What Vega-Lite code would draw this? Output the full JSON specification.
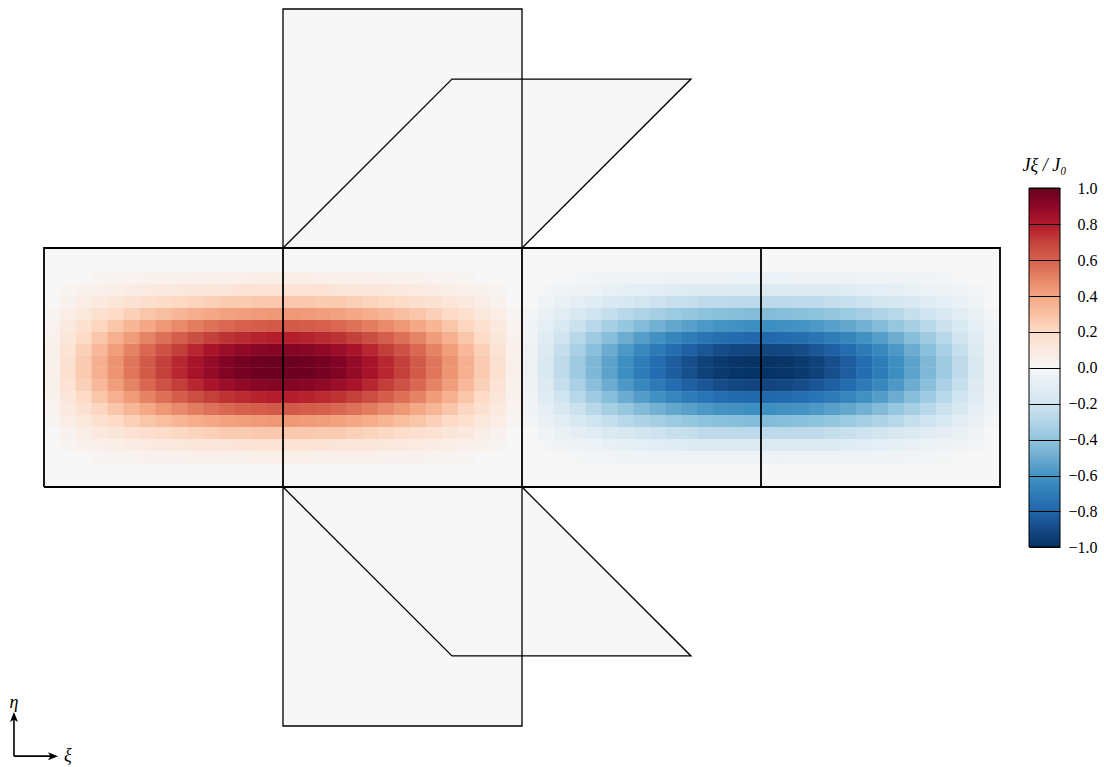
{"$schema":"https://vega.github.io/schema/vega-lite/v6.json","width":1104,"height":767,"autosize":{"type":"none"},"padding":0,"background":"white","config":{"view":{"stroke":null}},
"datasets":{
"fills":[{"s":"top","y":40,"x1":30,"x2":60},{"s":"top","y":80,"x1":30,"x2":60},{"s":"bot","y":0,"x1":30,"x2":60},{"s":"bot","y":-40,"x1":30,"x2":60},{"s":"ptop","y":40,"x1":30,"x2":60},{"s":"ptop","y":68.28,"x1":51.21,"x2":81.21},{"s":"pbot","y":0,"x1":30,"x2":60},{"s":"pbot","y":-28.28,"x1":51.21,"x2":81.21},{"s":"mid","y":0,"x1":0,"x2":120},{"s":"mid","y":40,"x1":0,"x2":120}],
"thin":[{"s":"top","o":0,"x":30,"y":40},{"s":"top","o":1,"x":30,"y":80},{"s":"top","o":2,"x":60,"y":80},{"s":"top","o":3,"x":60,"y":40},{"s":"bot","o":0,"x":30,"y":0},{"s":"bot","o":1,"x":30,"y":-40},{"s":"bot","o":2,"x":60,"y":-40},{"s":"bot","o":3,"x":60,"y":0},{"s":"ptop","o":0,"x":30,"y":40},{"s":"ptop","o":1,"x":51.21,"y":68.28},{"s":"ptop","o":2,"x":81.21,"y":68.28},{"s":"ptop","o":3,"x":60,"y":40},{"s":"pbot","o":0,"x":30,"y":0},{"s":"pbot","o":1,"x":51.21,"y":-28.28},{"s":"pbot","o":2,"x":81.21,"y":-28.28},{"s":"pbot","o":3,"x":60,"y":0}],
"thick":[{"s":"box","o":0,"x":0,"y":0},{"s":"box","o":1,"x":0,"y":40},{"s":"box","o":2,"x":120,"y":40},{"s":"box","o":3,"x":120,"y":0},{"s":"box","o":4,"x":0,"y":0},{"s":"d1","o":0,"x":30,"y":0},{"s":"d1","o":1,"x":30,"y":40},{"s":"d2","o":0,"x":60,"y":0},{"s":"d2","o":1,"x":60,"y":40},{"s":"d3","o":0,"x":90,"y":0},{"s":"d3","o":1,"x":90,"y":40}],
"heat":[
{"x":1,"y":21,"v":0.05},{"x":3,"y":21,"v":0.16},{"x":5,"y":21,"v":0.26},{"x":7,"y":21,"v":0.36},{"x":9,"y":21,"v":0.45},{"x":11,"y":21,"v":0.54},{"x":13,"y":21,"v":0.62},{"x":15,"y":21,"v":0.7},{"x":17,"y":21,"v":0.77},{"x":19,"y":21,"v":0.83},{"x":21,"y":21,"v":0.88},{"x":23,"y":21,"v":0.93},{"x":25,"y":21,"v":0.96},{"x":27,"y":21,"v":0.98},{"x":29,"y":21,"v":0.99},{"x":31,"y":21,"v":0.99},{"x":33,"y":21,"v":0.98},{"x":35,"y":21,"v":0.96},{"x":37,"y":21,"v":0.93},{"x":39,"y":21,"v":0.88},{"x":41,"y":21,"v":0.83},{"x":43,"y":21,"v":0.77},{"x":45,"y":21,"v":0.7},{"x":47,"y":21,"v":0.62},{"x":49,"y":21,"v":0.54},{"x":51,"y":21,"v":0.45},{"x":53,"y":21,"v":0.36},{"x":55,"y":21,"v":0.26},{"x":57,"y":21,"v":0.16},{"x":59,"y":21,"v":0.05},
{"x":61,"y":21,"v":-0.05},{"x":63,"y":21,"v":-0.16},{"x":65,"y":21,"v":-0.26},{"x":67,"y":21,"v":-0.36},{"x":69,"y":21,"v":-0.45},{"x":71,"y":21,"v":-0.54},{"x":73,"y":21,"v":-0.62},{"x":75,"y":21,"v":-0.7},{"x":77,"y":21,"v":-0.77},{"x":79,"y":21,"v":-0.83},{"x":81,"y":21,"v":-0.88},{"x":83,"y":21,"v":-0.93},{"x":85,"y":21,"v":-0.96},{"x":87,"y":21,"v":-0.98},{"x":89,"y":21,"v":-0.99},{"x":91,"y":21,"v":-0.99},{"x":93,"y":21,"v":-0.98},{"x":95,"y":21,"v":-0.96},{"x":97,"y":21,"v":-0.93},{"x":99,"y":21,"v":-0.88},{"x":101,"y":21,"v":-0.83},{"x":103,"y":21,"v":-0.77},{"x":105,"y":21,"v":-0.7},{"x":107,"y":21,"v":-0.62},{"x":109,"y":21,"v":-0.54},{"x":111,"y":21,"v":-0.45},{"x":113,"y":21,"v":-0.36},{"x":115,"y":21,"v":-0.26},{"x":117,"y":21,"v":-0.16},{"x":119,"y":21,"v":-0.05},
{"x":1,"y":19,"v":0.05},{"x":3,"y":19,"v":0.16},{"x":5,"y":19,"v":0.26},{"x":7,"y":19,"v":0.36},{"x":9,"y":19,"v":0.45},{"x":11,"y":19,"v":0.54},{"x":13,"y":19,"v":0.62},{"x":15,"y":19,"v":0.7},{"x":17,"y":19,"v":0.77},{"x":19,"y":19,"v":0.83},{"x":21,"y":19,"v":0.88},{"x":23,"y":19,"v":0.93},{"x":25,"y":19,"v":0.96},{"x":27,"y":19,"v":0.98},{"x":29,"y":19,"v":0.99},{"x":31,"y":19,"v":0.99},{"x":33,"y":19,"v":0.98},{"x":35,"y":19,"v":0.96},{"x":37,"y":19,"v":0.93},{"x":39,"y":19,"v":0.88},{"x":41,"y":19,"v":0.83},{"x":43,"y":19,"v":0.77},{"x":45,"y":19,"v":0.7},{"x":47,"y":19,"v":0.62},{"x":49,"y":19,"v":0.54},{"x":51,"y":19,"v":0.45},{"x":53,"y":19,"v":0.36},{"x":55,"y":19,"v":0.26},{"x":57,"y":19,"v":0.16},{"x":59,"y":19,"v":0.05},
{"x":61,"y":19,"v":-0.05},{"x":63,"y":19,"v":-0.16},{"x":65,"y":19,"v":-0.26},{"x":67,"y":19,"v":-0.36},{"x":69,"y":19,"v":-0.45},{"x":71,"y":19,"v":-0.54},{"x":73,"y":19,"v":-0.62},{"x":75,"y":19,"v":-0.7},{"x":77,"y":19,"v":-0.77},{"x":79,"y":19,"v":-0.83},{"x":81,"y":19,"v":-0.88},{"x":83,"y":19,"v":-0.93},{"x":85,"y":19,"v":-0.96},{"x":87,"y":19,"v":-0.98},{"x":89,"y":19,"v":-0.99},{"x":91,"y":19,"v":-0.99},{"x":93,"y":19,"v":-0.98},{"x":95,"y":19,"v":-0.96},{"x":97,"y":19,"v":-0.93},{"x":99,"y":19,"v":-0.88},{"x":101,"y":19,"v":-0.83},{"x":103,"y":19,"v":-0.77},{"x":105,"y":19,"v":-0.7},{"x":107,"y":19,"v":-0.62},{"x":109,"y":19,"v":-0.54},{"x":111,"y":19,"v":-0.45},{"x":113,"y":19,"v":-0.36},{"x":115,"y":19,"v":-0.26},{"x":117,"y":19,"v":-0.16},{"x":119,"y":19,"v":-0.05},
{"x":1,"y":23,"v":0.05},{"x":3,"y":23,"v":0.14},{"x":5,"y":23,"v":0.24},{"x":7,"y":23,"v":0.33},{"x":9,"y":23,"v":0.42},{"x":11,"y":23,"v":0.5},{"x":13,"y":23,"v":0.58},{"x":15,"y":23,"v":0.65},{"x":17,"y":23,"v":0.71},{"x":19,"y":23,"v":0.77},{"x":21,"y":23,"v":0.82},{"x":23,"y":23,"v":0.86},{"x":25,"y":23,"v":0.89},{"x":27,"y":23,"v":0.91},{"x":29,"y":23,"v":0.92},{"x":31,"y":23,"v":0.92},{"x":33,"y":23,"v":0.91},{"x":35,"y":23,"v":0.89},{"x":37,"y":23,"v":0.86},{"x":39,"y":23,"v":0.82},{"x":41,"y":23,"v":0.77},{"x":43,"y":23,"v":0.71},{"x":45,"y":23,"v":0.65},{"x":47,"y":23,"v":0.58},{"x":49,"y":23,"v":0.5},{"x":51,"y":23,"v":0.42},{"x":53,"y":23,"v":0.33},{"x":55,"y":23,"v":0.24},{"x":57,"y":23,"v":0.14},{"x":59,"y":23,"v":0.05},
{"x":61,"y":23,"v":-0.05},{"x":63,"y":23,"v":-0.14},{"x":65,"y":23,"v":-0.24},{"x":67,"y":23,"v":-0.33},{"x":69,"y":23,"v":-0.42},{"x":71,"y":23,"v":-0.5},{"x":73,"y":23,"v":-0.58},{"x":75,"y":23,"v":-0.65},{"x":77,"y":23,"v":-0.71},{"x":79,"y":23,"v":-0.77},{"x":81,"y":23,"v":-0.82},{"x":83,"y":23,"v":-0.86},{"x":85,"y":23,"v":-0.89},{"x":87,"y":23,"v":-0.91},{"x":89,"y":23,"v":-0.92},{"x":91,"y":23,"v":-0.92},{"x":93,"y":23,"v":-0.91},{"x":95,"y":23,"v":-0.89},{"x":97,"y":23,"v":-0.86},{"x":99,"y":23,"v":-0.82},{"x":101,"y":23,"v":-0.77},{"x":103,"y":23,"v":-0.71},{"x":105,"y":23,"v":-0.65},{"x":107,"y":23,"v":-0.58},{"x":109,"y":23,"v":-0.5},{"x":111,"y":23,"v":-0.42},{"x":113,"y":23,"v":-0.33},{"x":115,"y":23,"v":-0.24},{"x":117,"y":23,"v":-0.14},{"x":119,"y":23,"v":-0.05},
{"x":1,"y":17,"v":0.05},{"x":3,"y":17,"v":0.14},{"x":5,"y":17,"v":0.24},{"x":7,"y":17,"v":0.33},{"x":9,"y":17,"v":0.42},{"x":11,"y":17,"v":0.5},{"x":13,"y":17,"v":0.58},{"x":15,"y":17,"v":0.65},{"x":17,"y":17,"v":0.71},{"x":19,"y":17,"v":0.77},{"x":21,"y":17,"v":0.82},{"x":23,"y":17,"v":0.86},{"x":25,"y":17,"v":0.89},{"x":27,"y":17,"v":0.91},{"x":29,"y":17,"v":0.92},{"x":31,"y":17,"v":0.92},{"x":33,"y":17,"v":0.91},{"x":35,"y":17,"v":0.89},{"x":37,"y":17,"v":0.86},{"x":39,"y":17,"v":0.82},{"x":41,"y":17,"v":0.77},{"x":43,"y":17,"v":0.71},{"x":45,"y":17,"v":0.65},{"x":47,"y":17,"v":0.58},{"x":49,"y":17,"v":0.5},{"x":51,"y":17,"v":0.42},{"x":53,"y":17,"v":0.33},{"x":55,"y":17,"v":0.24},{"x":57,"y":17,"v":0.14},{"x":59,"y":17,"v":0.05},
{"x":61,"y":17,"v":-0.05},{"x":63,"y":17,"v":-0.14},{"x":65,"y":17,"v":-0.24},{"x":67,"y":17,"v":-0.33},{"x":69,"y":17,"v":-0.42},{"x":71,"y":17,"v":-0.5},{"x":73,"y":17,"v":-0.58},{"x":75,"y":17,"v":-0.65},{"x":77,"y":17,"v":-0.71},{"x":79,"y":17,"v":-0.77},{"x":81,"y":17,"v":-0.82},{"x":83,"y":17,"v":-0.86},{"x":85,"y":17,"v":-0.89},{"x":87,"y":17,"v":-0.91},{"x":89,"y":17,"v":-0.92},{"x":91,"y":17,"v":-0.92},{"x":93,"y":17,"v":-0.91},{"x":95,"y":17,"v":-0.89},{"x":97,"y":17,"v":-0.86},{"x":99,"y":17,"v":-0.82},{"x":101,"y":17,"v":-0.77},{"x":103,"y":17,"v":-0.71},{"x":105,"y":17,"v":-0.65},{"x":107,"y":17,"v":-0.58},{"x":109,"y":17,"v":-0.5},{"x":111,"y":17,"v":-0.42},{"x":113,"y":17,"v":-0.33},{"x":115,"y":17,"v":-0.24},{"x":117,"y":17,"v":-0.14},{"x":119,"y":17,"v":-0.05},
{"x":1,"y":25,"v":0.04},{"x":3,"y":25,"v":0.12},{"x":5,"y":25,"v":0.2},{"x":7,"y":25,"v":0.28},{"x":9,"y":25,"v":0.36},{"x":11,"y":25,"v":0.43},{"x":13,"y":25,"v":0.5},{"x":15,"y":25,"v":0.56},{"x":17,"y":25,"v":0.61},{"x":19,"y":25,"v":0.66},{"x":21,"y":25,"v":0.7},{"x":23,"y":25,"v":0.74},{"x":25,"y":25,"v":0.76},{"x":27,"y":25,"v":0.78},{"x":29,"y":25,"v":0.79},{"x":31,"y":25,"v":0.79},{"x":33,"y":25,"v":0.78},{"x":35,"y":25,"v":0.76},{"x":37,"y":25,"v":0.74},{"x":39,"y":25,"v":0.7},{"x":41,"y":25,"v":0.66},{"x":43,"y":25,"v":0.61},{"x":45,"y":25,"v":0.56},{"x":47,"y":25,"v":0.5},{"x":49,"y":25,"v":0.43},{"x":51,"y":25,"v":0.36},{"x":53,"y":25,"v":0.28},{"x":55,"y":25,"v":0.2},{"x":57,"y":25,"v":0.12},{"x":59,"y":25,"v":0.04},
{"x":61,"y":25,"v":-0.04},{"x":63,"y":25,"v":-0.12},{"x":65,"y":25,"v":-0.2},{"x":67,"y":25,"v":-0.28},{"x":69,"y":25,"v":-0.36},{"x":71,"y":25,"v":-0.43},{"x":73,"y":25,"v":-0.5},{"x":75,"y":25,"v":-0.56},{"x":77,"y":25,"v":-0.61},{"x":79,"y":25,"v":-0.66},{"x":81,"y":25,"v":-0.7},{"x":83,"y":25,"v":-0.74},{"x":85,"y":25,"v":-0.76},{"x":87,"y":25,"v":-0.78},{"x":89,"y":25,"v":-0.79},{"x":91,"y":25,"v":-0.79},{"x":93,"y":25,"v":-0.78},{"x":95,"y":25,"v":-0.76},{"x":97,"y":25,"v":-0.74},{"x":99,"y":25,"v":-0.7},{"x":101,"y":25,"v":-0.66},{"x":103,"y":25,"v":-0.61},{"x":105,"y":25,"v":-0.56},{"x":107,"y":25,"v":-0.5},{"x":109,"y":25,"v":-0.43},{"x":111,"y":25,"v":-0.36},{"x":113,"y":25,"v":-0.28},{"x":115,"y":25,"v":-0.2},{"x":117,"y":25,"v":-0.12},{"x":119,"y":25,"v":-0.04},
{"x":1,"y":15,"v":0.04},{"x":3,"y":15,"v":0.12},{"x":5,"y":15,"v":0.2},{"x":7,"y":15,"v":0.28},{"x":9,"y":15,"v":0.36},{"x":11,"y":15,"v":0.43},{"x":13,"y":15,"v":0.5},{"x":15,"y":15,"v":0.56},{"x":17,"y":15,"v":0.61},{"x":19,"y":15,"v":0.66},{"x":21,"y":15,"v":0.7},{"x":23,"y":15,"v":0.74},{"x":25,"y":15,"v":0.76},{"x":27,"y":15,"v":0.78},{"x":29,"y":15,"v":0.79},{"x":31,"y":15,"v":0.79},{"x":33,"y":15,"v":0.78},{"x":35,"y":15,"v":0.76},{"x":37,"y":15,"v":0.74},{"x":39,"y":15,"v":0.7},{"x":41,"y":15,"v":0.66},{"x":43,"y":15,"v":0.61},{"x":45,"y":15,"v":0.56},{"x":47,"y":15,"v":0.5},{"x":49,"y":15,"v":0.43},{"x":51,"y":15,"v":0.36},{"x":53,"y":15,"v":0.28},{"x":55,"y":15,"v":0.2},{"x":57,"y":15,"v":0.12},{"x":59,"y":15,"v":0.04},
{"x":61,"y":15,"v":-0.04},{"x":63,"y":15,"v":-0.12},{"x":65,"y":15,"v":-0.2},{"x":67,"y":15,"v":-0.28},{"x":69,"y":15,"v":-0.36},{"x":71,"y":15,"v":-0.43},{"x":73,"y":15,"v":-0.5},{"x":75,"y":15,"v":-0.56},{"x":77,"y":15,"v":-0.61},{"x":79,"y":15,"v":-0.66},{"x":81,"y":15,"v":-0.7},{"x":83,"y":15,"v":-0.74},{"x":85,"y":15,"v":-0.76},{"x":87,"y":15,"v":-0.78},{"x":89,"y":15,"v":-0.79},{"x":91,"y":15,"v":-0.79},{"x":93,"y":15,"v":-0.78},{"x":95,"y":15,"v":-0.76},{"x":97,"y":15,"v":-0.74},{"x":99,"y":15,"v":-0.7},{"x":101,"y":15,"v":-0.66},{"x":103,"y":15,"v":-0.61},{"x":105,"y":15,"v":-0.56},{"x":107,"y":15,"v":-0.5},{"x":109,"y":15,"v":-0.43},{"x":111,"y":15,"v":-0.36},{"x":113,"y":15,"v":-0.28},{"x":115,"y":15,"v":-0.2},{"x":117,"y":15,"v":-0.12},{"x":119,"y":15,"v":-0.04},
{"x":1,"y":27,"v":0.03},{"x":3,"y":27,"v":0.1},{"x":5,"y":27,"v":0.16},{"x":7,"y":27,"v":0.22},{"x":9,"y":27,"v":0.28},{"x":11,"y":27,"v":0.34},{"x":13,"y":27,"v":0.39},{"x":15,"y":27,"v":0.44},{"x":17,"y":27,"v":0.48},{"x":19,"y":27,"v":0.52},{"x":21,"y":27,"v":0.55},{"x":23,"y":27,"v":0.58},{"x":25,"y":27,"v":0.6},{"x":27,"y":27,"v":0.61},{"x":29,"y":27,"v":0.62},{"x":31,"y":27,"v":0.62},{"x":33,"y":27,"v":0.61},{"x":35,"y":27,"v":0.6},{"x":37,"y":27,"v":0.58},{"x":39,"y":27,"v":0.55},{"x":41,"y":27,"v":0.52},{"x":43,"y":27,"v":0.48},{"x":45,"y":27,"v":0.44},{"x":47,"y":27,"v":0.39},{"x":49,"y":27,"v":0.34},{"x":51,"y":27,"v":0.28},{"x":53,"y":27,"v":0.22},{"x":55,"y":27,"v":0.16},{"x":57,"y":27,"v":0.1},{"x":59,"y":27,"v":0.03},
{"x":61,"y":27,"v":-0.03},{"x":63,"y":27,"v":-0.1},{"x":65,"y":27,"v":-0.16},{"x":67,"y":27,"v":-0.22},{"x":69,"y":27,"v":-0.28},{"x":71,"y":27,"v":-0.34},{"x":73,"y":27,"v":-0.39},{"x":75,"y":27,"v":-0.44},{"x":77,"y":27,"v":-0.48},{"x":79,"y":27,"v":-0.52},{"x":81,"y":27,"v":-0.55},{"x":83,"y":27,"v":-0.58},{"x":85,"y":27,"v":-0.6},{"x":87,"y":27,"v":-0.61},{"x":89,"y":27,"v":-0.62},{"x":91,"y":27,"v":-0.62},{"x":93,"y":27,"v":-0.61},{"x":95,"y":27,"v":-0.6},{"x":97,"y":27,"v":-0.58},{"x":99,"y":27,"v":-0.55},{"x":101,"y":27,"v":-0.52},{"x":103,"y":27,"v":-0.48},{"x":105,"y":27,"v":-0.44},{"x":107,"y":27,"v":-0.39},{"x":109,"y":27,"v":-0.34},{"x":111,"y":27,"v":-0.28},{"x":113,"y":27,"v":-0.22},{"x":115,"y":27,"v":-0.16},{"x":117,"y":27,"v":-0.1},{"x":119,"y":27,"v":-0.03},
{"x":1,"y":13,"v":0.03},{"x":3,"y":13,"v":0.1},{"x":5,"y":13,"v":0.16},{"x":7,"y":13,"v":0.22},{"x":9,"y":13,"v":0.28},{"x":11,"y":13,"v":0.34},{"x":13,"y":13,"v":0.39},{"x":15,"y":13,"v":0.44},{"x":17,"y":13,"v":0.48},{"x":19,"y":13,"v":0.52},{"x":21,"y":13,"v":0.55},{"x":23,"y":13,"v":0.58},{"x":25,"y":13,"v":0.6},{"x":27,"y":13,"v":0.61},{"x":29,"y":13,"v":0.62},{"x":31,"y":13,"v":0.62},{"x":33,"y":13,"v":0.61},{"x":35,"y":13,"v":0.6},{"x":37,"y":13,"v":0.58},{"x":39,"y":13,"v":0.55},{"x":41,"y":13,"v":0.52},{"x":43,"y":13,"v":0.48},{"x":45,"y":13,"v":0.44},{"x":47,"y":13,"v":0.39},{"x":49,"y":13,"v":0.34},{"x":51,"y":13,"v":0.28},{"x":53,"y":13,"v":0.22},{"x":55,"y":13,"v":0.16},{"x":57,"y":13,"v":0.1},{"x":59,"y":13,"v":0.03},
{"x":61,"y":13,"v":-0.03},{"x":63,"y":13,"v":-0.1},{"x":65,"y":13,"v":-0.16},{"x":67,"y":13,"v":-0.22},{"x":69,"y":13,"v":-0.28},{"x":71,"y":13,"v":-0.34},{"x":73,"y":13,"v":-0.39},{"x":75,"y":13,"v":-0.44},{"x":77,"y":13,"v":-0.48},{"x":79,"y":13,"v":-0.52},{"x":81,"y":13,"v":-0.55},{"x":83,"y":13,"v":-0.58},{"x":85,"y":13,"v":-0.6},{"x":87,"y":13,"v":-0.61},{"x":89,"y":13,"v":-0.62},{"x":91,"y":13,"v":-0.62},{"x":93,"y":13,"v":-0.61},{"x":95,"y":13,"v":-0.6},{"x":97,"y":13,"v":-0.58},{"x":99,"y":13,"v":-0.55},{"x":101,"y":13,"v":-0.52},{"x":103,"y":13,"v":-0.48},{"x":105,"y":13,"v":-0.44},{"x":107,"y":13,"v":-0.39},{"x":109,"y":13,"v":-0.34},{"x":111,"y":13,"v":-0.28},{"x":113,"y":13,"v":-0.22},{"x":115,"y":13,"v":-0.16},{"x":117,"y":13,"v":-0.1},{"x":119,"y":13,"v":-0.03},
{"x":1,"y":29,"v":0.02},{"x":3,"y":29,"v":0.07},{"x":5,"y":29,"v":0.11},{"x":7,"y":29,"v":0.16},{"x":9,"y":29,"v":0.2},{"x":11,"y":29,"v":0.24},{"x":13,"y":29,"v":0.28},{"x":15,"y":29,"v":0.31},{"x":17,"y":29,"v":0.34},{"x":19,"y":29,"v":0.37},{"x":21,"y":29,"v":0.39},{"x":23,"y":29,"v":0.41},{"x":25,"y":29,"v":0.42},{"x":27,"y":29,"v":0.43},{"x":29,"y":29,"v":0.44},{"x":31,"y":29,"v":0.44},{"x":33,"y":29,"v":0.43},{"x":35,"y":29,"v":0.42},{"x":37,"y":29,"v":0.41},{"x":39,"y":29,"v":0.39},{"x":41,"y":29,"v":0.37},{"x":43,"y":29,"v":0.34},{"x":45,"y":29,"v":0.31},{"x":47,"y":29,"v":0.28},{"x":49,"y":29,"v":0.24},{"x":51,"y":29,"v":0.2},{"x":53,"y":29,"v":0.16},{"x":55,"y":29,"v":0.11},{"x":57,"y":29,"v":0.07},{"x":59,"y":29,"v":0.02},
{"x":61,"y":29,"v":-0.02},{"x":63,"y":29,"v":-0.07},{"x":65,"y":29,"v":-0.11},{"x":67,"y":29,"v":-0.16},{"x":69,"y":29,"v":-0.2},{"x":71,"y":29,"v":-0.24},{"x":73,"y":29,"v":-0.28},{"x":75,"y":29,"v":-0.31},{"x":77,"y":29,"v":-0.34},{"x":79,"y":29,"v":-0.37},{"x":81,"y":29,"v":-0.39},{"x":83,"y":29,"v":-0.41},{"x":85,"y":29,"v":-0.42},{"x":87,"y":29,"v":-0.43},{"x":89,"y":29,"v":-0.44},{"x":91,"y":29,"v":-0.44},{"x":93,"y":29,"v":-0.43},{"x":95,"y":29,"v":-0.42},{"x":97,"y":29,"v":-0.41},{"x":99,"y":29,"v":-0.39},{"x":101,"y":29,"v":-0.37},{"x":103,"y":29,"v":-0.34},{"x":105,"y":29,"v":-0.31},{"x":107,"y":29,"v":-0.28},{"x":109,"y":29,"v":-0.24},{"x":111,"y":29,"v":-0.2},{"x":113,"y":29,"v":-0.16},{"x":115,"y":29,"v":-0.11},{"x":117,"y":29,"v":-0.07},{"x":119,"y":29,"v":-0.02},
{"x":1,"y":11,"v":0.02},{"x":3,"y":11,"v":0.07},{"x":5,"y":11,"v":0.11},{"x":7,"y":11,"v":0.16},{"x":9,"y":11,"v":0.2},{"x":11,"y":11,"v":0.24},{"x":13,"y":11,"v":0.28},{"x":15,"y":11,"v":0.31},{"x":17,"y":11,"v":0.34},{"x":19,"y":11,"v":0.37},{"x":21,"y":11,"v":0.39},{"x":23,"y":11,"v":0.41},{"x":25,"y":11,"v":0.42},{"x":27,"y":11,"v":0.43},{"x":29,"y":11,"v":0.44},{"x":31,"y":11,"v":0.44},{"x":33,"y":11,"v":0.43},{"x":35,"y":11,"v":0.42},{"x":37,"y":11,"v":0.41},{"x":39,"y":11,"v":0.39},{"x":41,"y":11,"v":0.37},{"x":43,"y":11,"v":0.34},{"x":45,"y":11,"v":0.31},{"x":47,"y":11,"v":0.28},{"x":49,"y":11,"v":0.24},{"x":51,"y":11,"v":0.2},{"x":53,"y":11,"v":0.16},{"x":55,"y":11,"v":0.11},{"x":57,"y":11,"v":0.07},{"x":59,"y":11,"v":0.02},
{"x":61,"y":11,"v":-0.02},{"x":63,"y":11,"v":-0.07},{"x":65,"y":11,"v":-0.11},{"x":67,"y":11,"v":-0.16},{"x":69,"y":11,"v":-0.2},{"x":71,"y":11,"v":-0.24},{"x":73,"y":11,"v":-0.28},{"x":75,"y":11,"v":-0.31},{"x":77,"y":11,"v":-0.34},{"x":79,"y":11,"v":-0.37},{"x":81,"y":11,"v":-0.39},{"x":83,"y":11,"v":-0.41},{"x":85,"y":11,"v":-0.42},{"x":87,"y":11,"v":-0.43},{"x":89,"y":11,"v":-0.44},{"x":91,"y":11,"v":-0.44},{"x":93,"y":11,"v":-0.43},{"x":95,"y":11,"v":-0.42},{"x":97,"y":11,"v":-0.41},{"x":99,"y":11,"v":-0.39},{"x":101,"y":11,"v":-0.37},{"x":103,"y":11,"v":-0.34},{"x":105,"y":11,"v":-0.31},{"x":107,"y":11,"v":-0.28},{"x":109,"y":11,"v":-0.24},{"x":111,"y":11,"v":-0.2},{"x":113,"y":11,"v":-0.16},{"x":115,"y":11,"v":-0.11},{"x":117,"y":11,"v":-0.07},{"x":119,"y":11,"v":-0.02},
{"x":3,"y":31,"v":0.04},{"x":5,"y":31,"v":0.07},{"x":7,"y":31,"v":0.1},{"x":9,"y":31,"v":0.12},{"x":11,"y":31,"v":0.15},{"x":13,"y":31,"v":0.17},{"x":15,"y":31,"v":0.19},{"x":17,"y":31,"v":0.21},{"x":19,"y":31,"v":0.23},{"x":21,"y":31,"v":0.24},{"x":23,"y":31,"v":0.26},{"x":25,"y":31,"v":0.26},{"x":27,"y":31,"v":0.27},{"x":29,"y":31,"v":0.27},{"x":31,"y":31,"v":0.27},{"x":33,"y":31,"v":0.27},{"x":35,"y":31,"v":0.26},{"x":37,"y":31,"v":0.26},{"x":39,"y":31,"v":0.24},{"x":41,"y":31,"v":0.23},{"x":43,"y":31,"v":0.21},{"x":45,"y":31,"v":0.19},{"x":47,"y":31,"v":0.17},{"x":49,"y":31,"v":0.15},{"x":51,"y":31,"v":0.12},{"x":53,"y":31,"v":0.1},{"x":55,"y":31,"v":0.07},{"x":57,"y":31,"v":0.04},
{"x":63,"y":31,"v":-0.04},{"x":65,"y":31,"v":-0.07},{"x":67,"y":31,"v":-0.1},{"x":69,"y":31,"v":-0.12},{"x":71,"y":31,"v":-0.15},{"x":73,"y":31,"v":-0.17},{"x":75,"y":31,"v":-0.19},{"x":77,"y":31,"v":-0.21},{"x":79,"y":31,"v":-0.23},{"x":81,"y":31,"v":-0.24},{"x":83,"y":31,"v":-0.26},{"x":85,"y":31,"v":-0.26},{"x":87,"y":31,"v":-0.27},{"x":89,"y":31,"v":-0.27},{"x":91,"y":31,"v":-0.27},{"x":93,"y":31,"v":-0.27},{"x":95,"y":31,"v":-0.26},{"x":97,"y":31,"v":-0.26},{"x":99,"y":31,"v":-0.24},{"x":101,"y":31,"v":-0.23},{"x":103,"y":31,"v":-0.21},{"x":105,"y":31,"v":-0.19},{"x":107,"y":31,"v":-0.17},{"x":109,"y":31,"v":-0.15},{"x":111,"y":31,"v":-0.12},{"x":113,"y":31,"v":-0.1},{"x":115,"y":31,"v":-0.07},{"x":117,"y":31,"v":-0.04},
{"x":3,"y":9,"v":0.04},{"x":5,"y":9,"v":0.07},{"x":7,"y":9,"v":0.1},{"x":9,"y":9,"v":0.12},{"x":11,"y":9,"v":0.15},{"x":13,"y":9,"v":0.17},{"x":15,"y":9,"v":0.19},{"x":17,"y":9,"v":0.21},{"x":19,"y":9,"v":0.23},{"x":21,"y":9,"v":0.24},{"x":23,"y":9,"v":0.26},{"x":25,"y":9,"v":0.26},{"x":27,"y":9,"v":0.27},{"x":29,"y":9,"v":0.27},{"x":31,"y":9,"v":0.27},{"x":33,"y":9,"v":0.27},{"x":35,"y":9,"v":0.26},{"x":37,"y":9,"v":0.26},{"x":39,"y":9,"v":0.24},{"x":41,"y":9,"v":0.23},{"x":43,"y":9,"v":0.21},{"x":45,"y":9,"v":0.19},{"x":47,"y":9,"v":0.17},{"x":49,"y":9,"v":0.15},{"x":51,"y":9,"v":0.12},{"x":53,"y":9,"v":0.1},{"x":55,"y":9,"v":0.07},{"x":57,"y":9,"v":0.04},
{"x":63,"y":9,"v":-0.04},{"x":65,"y":9,"v":-0.07},{"x":67,"y":9,"v":-0.1},{"x":69,"y":9,"v":-0.12},{"x":71,"y":9,"v":-0.15},{"x":73,"y":9,"v":-0.17},{"x":75,"y":9,"v":-0.19},{"x":77,"y":9,"v":-0.21},{"x":79,"y":9,"v":-0.23},{"x":81,"y":9,"v":-0.24},{"x":83,"y":9,"v":-0.26},{"x":85,"y":9,"v":-0.26},{"x":87,"y":9,"v":-0.27},{"x":89,"y":9,"v":-0.27},{"x":91,"y":9,"v":-0.27},{"x":93,"y":9,"v":-0.27},{"x":95,"y":9,"v":-0.26},{"x":97,"y":9,"v":-0.26},{"x":99,"y":9,"v":-0.24},{"x":101,"y":9,"v":-0.23},{"x":103,"y":9,"v":-0.21},{"x":105,"y":9,"v":-0.19},{"x":107,"y":9,"v":-0.17},{"x":109,"y":9,"v":-0.15},{"x":111,"y":9,"v":-0.12},{"x":113,"y":9,"v":-0.1},{"x":115,"y":9,"v":-0.07},{"x":117,"y":9,"v":-0.04},
{"x":3,"y":33,"v":0.02},{"x":5,"y":33,"v":0.04},{"x":7,"y":33,"v":0.05},{"x":9,"y":33,"v":0.06},{"x":11,"y":33,"v":0.08},{"x":13,"y":33,"v":0.09},{"x":15,"y":33,"v":0.1},{"x":17,"y":33,"v":0.11},{"x":19,"y":33,"v":0.12},{"x":21,"y":33,"v":0.13},{"x":23,"y":33,"v":0.13},{"x":25,"y":33,"v":0.14},{"x":27,"y":33,"v":0.14},{"x":29,"y":33,"v":0.14},{"x":31,"y":33,"v":0.14},{"x":33,"y":33,"v":0.14},{"x":35,"y":33,"v":0.14},{"x":37,"y":33,"v":0.13},{"x":39,"y":33,"v":0.13},{"x":41,"y":33,"v":0.12},{"x":43,"y":33,"v":0.11},{"x":45,"y":33,"v":0.1},{"x":47,"y":33,"v":0.09},{"x":49,"y":33,"v":0.08},{"x":51,"y":33,"v":0.06},{"x":53,"y":33,"v":0.05},{"x":55,"y":33,"v":0.04},{"x":57,"y":33,"v":0.02},
{"x":63,"y":33,"v":-0.02},{"x":65,"y":33,"v":-0.04},{"x":67,"y":33,"v":-0.05},{"x":69,"y":33,"v":-0.06},{"x":71,"y":33,"v":-0.08},{"x":73,"y":33,"v":-0.09},{"x":75,"y":33,"v":-0.1},{"x":77,"y":33,"v":-0.11},{"x":79,"y":33,"v":-0.12},{"x":81,"y":33,"v":-0.13},{"x":83,"y":33,"v":-0.13},{"x":85,"y":33,"v":-0.14},{"x":87,"y":33,"v":-0.14},{"x":89,"y":33,"v":-0.14},{"x":91,"y":33,"v":-0.14},{"x":93,"y":33,"v":-0.14},{"x":95,"y":33,"v":-0.14},{"x":97,"y":33,"v":-0.13},{"x":99,"y":33,"v":-0.13},{"x":101,"y":33,"v":-0.12},{"x":103,"y":33,"v":-0.11},{"x":105,"y":33,"v":-0.1},{"x":107,"y":33,"v":-0.09},{"x":109,"y":33,"v":-0.08},{"x":111,"y":33,"v":-0.06},{"x":113,"y":33,"v":-0.05},{"x":115,"y":33,"v":-0.04},{"x":117,"y":33,"v":-0.02},
{"x":3,"y":7,"v":0.02},{"x":5,"y":7,"v":0.04},{"x":7,"y":7,"v":0.05},{"x":9,"y":7,"v":0.06},{"x":11,"y":7,"v":0.08},{"x":13,"y":7,"v":0.09},{"x":15,"y":7,"v":0.1},{"x":17,"y":7,"v":0.11},{"x":19,"y":7,"v":0.12},{"x":21,"y":7,"v":0.13},{"x":23,"y":7,"v":0.13},{"x":25,"y":7,"v":0.14},{"x":27,"y":7,"v":0.14},{"x":29,"y":7,"v":0.14},{"x":31,"y":7,"v":0.14},{"x":33,"y":7,"v":0.14},{"x":35,"y":7,"v":0.14},{"x":37,"y":7,"v":0.13},{"x":39,"y":7,"v":0.13},{"x":41,"y":7,"v":0.12},{"x":43,"y":7,"v":0.11},{"x":45,"y":7,"v":0.1},{"x":47,"y":7,"v":0.09},{"x":49,"y":7,"v":0.08},{"x":51,"y":7,"v":0.06},{"x":53,"y":7,"v":0.05},{"x":55,"y":7,"v":0.04},{"x":57,"y":7,"v":0.02},
{"x":63,"y":7,"v":-0.02},{"x":65,"y":7,"v":-0.04},{"x":67,"y":7,"v":-0.05},{"x":69,"y":7,"v":-0.06},{"x":71,"y":7,"v":-0.08},{"x":73,"y":7,"v":-0.09},{"x":75,"y":7,"v":-0.1},{"x":77,"y":7,"v":-0.11},{"x":79,"y":7,"v":-0.12},{"x":81,"y":7,"v":-0.13},{"x":83,"y":7,"v":-0.13},{"x":85,"y":7,"v":-0.14},{"x":87,"y":7,"v":-0.14},{"x":89,"y":7,"v":-0.14},{"x":91,"y":7,"v":-0.14},{"x":93,"y":7,"v":-0.14},{"x":95,"y":7,"v":-0.14},{"x":97,"y":7,"v":-0.13},{"x":99,"y":7,"v":-0.13},{"x":101,"y":7,"v":-0.12},{"x":103,"y":7,"v":-0.11},{"x":105,"y":7,"v":-0.1},{"x":107,"y":7,"v":-0.09},{"x":109,"y":7,"v":-0.08},{"x":111,"y":7,"v":-0.06},{"x":113,"y":7,"v":-0.05},{"x":115,"y":7,"v":-0.04},{"x":117,"y":7,"v":-0.02},
{"x":7,"y":35,"v":0.02},{"x":9,"y":35,"v":0.03},{"x":11,"y":35,"v":0.03},{"x":13,"y":35,"v":0.04},{"x":15,"y":35,"v":0.04},{"x":17,"y":35,"v":0.04},{"x":19,"y":35,"v":0.05},{"x":21,"y":35,"v":0.05},{"x":23,"y":35,"v":0.05},{"x":25,"y":35,"v":0.05},{"x":27,"y":35,"v":0.06},{"x":29,"y":35,"v":0.06},{"x":31,"y":35,"v":0.06},{"x":33,"y":35,"v":0.06},{"x":35,"y":35,"v":0.05},{"x":37,"y":35,"v":0.05},{"x":39,"y":35,"v":0.05},{"x":41,"y":35,"v":0.05},{"x":43,"y":35,"v":0.04},{"x":45,"y":35,"v":0.04},{"x":47,"y":35,"v":0.04},{"x":49,"y":35,"v":0.03},{"x":51,"y":35,"v":0.03},{"x":53,"y":35,"v":0.02},
{"x":67,"y":35,"v":-0.02},{"x":69,"y":35,"v":-0.03},{"x":71,"y":35,"v":-0.03},{"x":73,"y":35,"v":-0.04},{"x":75,"y":35,"v":-0.04},{"x":77,"y":35,"v":-0.04},{"x":79,"y":35,"v":-0.05},{"x":81,"y":35,"v":-0.05},{"x":83,"y":35,"v":-0.05},{"x":85,"y":35,"v":-0.05},{"x":87,"y":35,"v":-0.06},{"x":89,"y":35,"v":-0.06},{"x":91,"y":35,"v":-0.06},{"x":93,"y":35,"v":-0.06},{"x":95,"y":35,"v":-0.05},{"x":97,"y":35,"v":-0.05},{"x":99,"y":35,"v":-0.05},{"x":101,"y":35,"v":-0.05},{"x":103,"y":35,"v":-0.04},{"x":105,"y":35,"v":-0.04},{"x":107,"y":35,"v":-0.04},{"x":109,"y":35,"v":-0.03},{"x":111,"y":35,"v":-0.03},{"x":113,"y":35,"v":-0.02},
{"x":7,"y":5,"v":0.02},{"x":9,"y":5,"v":0.03},{"x":11,"y":5,"v":0.03},{"x":13,"y":5,"v":0.04},{"x":15,"y":5,"v":0.04},{"x":17,"y":5,"v":0.04},{"x":19,"y":5,"v":0.05},{"x":21,"y":5,"v":0.05},{"x":23,"y":5,"v":0.05},{"x":25,"y":5,"v":0.05},{"x":27,"y":5,"v":0.06},{"x":29,"y":5,"v":0.06},{"x":31,"y":5,"v":0.06},{"x":33,"y":5,"v":0.06},{"x":35,"y":5,"v":0.05},{"x":37,"y":5,"v":0.05},{"x":39,"y":5,"v":0.05},{"x":41,"y":5,"v":0.05},{"x":43,"y":5,"v":0.04},{"x":45,"y":5,"v":0.04},{"x":47,"y":5,"v":0.04},{"x":49,"y":5,"v":0.03},{"x":51,"y":5,"v":0.03},{"x":53,"y":5,"v":0.02},
{"x":67,"y":5,"v":-0.02},{"x":69,"y":5,"v":-0.03},{"x":71,"y":5,"v":-0.03},{"x":73,"y":5,"v":-0.04},{"x":75,"y":5,"v":-0.04},{"x":77,"y":5,"v":-0.04},{"x":79,"y":5,"v":-0.05},{"x":81,"y":5,"v":-0.05},{"x":83,"y":5,"v":-0.05},{"x":85,"y":5,"v":-0.05},{"x":87,"y":5,"v":-0.06},{"x":89,"y":5,"v":-0.06},{"x":91,"y":5,"v":-0.06},{"x":93,"y":5,"v":-0.06},{"x":95,"y":5,"v":-0.05},{"x":97,"y":5,"v":-0.05},{"x":99,"y":5,"v":-0.05},{"x":101,"y":5,"v":-0.05},{"x":103,"y":5,"v":-0.04},{"x":105,"y":5,"v":-0.04},{"x":107,"y":5,"v":-0.04},{"x":109,"y":5,"v":-0.03},{"x":111,"y":5,"v":-0.03},{"x":113,"y":5,"v":-0.02}
],
"ticks":[{"t":-0.8,"a":123.64,"b":127.5},{"t":-0.6,"a":123.64,"b":127.5},{"t":-0.4,"a":123.64,"b":127.5},{"t":-0.2,"a":123.64,"b":127.5},{"t":0,"a":123.64,"b":127.5},{"t":0.2,"a":123.64,"b":127.5},{"t":0.4,"a":123.64,"b":127.5},{"t":0.6,"a":123.64,"b":127.5},{"t":0.8,"a":123.64,"b":127.5}]
},
"resolve":{"scale":{"y":"independent"}},
"layer":[
{"layer":[
{"data":{"name":"fills"},"mark":{"type":"area","orient":"horizontal","color":"#f7f7f7"},"encoding":{"y":{"field":"y","type":"quantitative","scale":{"domain":[0,40],"range":[487,248]},"axis":null},"x":{"field":"x1","type":"quantitative","scale":{"domain":[0,120],"range":[44,1000]},"axis":null},"x2":{"field":"x2"},"detail":{"field":"s"}}},
{"data":{"name":"heat"},"mark":{"type":"rect","width":16.4,"height":12.4},"encoding":{"x":{"field":"x","type":"quantitative","axis":null},"y":{"field":"y","type":"quantitative","axis":null},"color":{"field":"v","type":"quantitative","scale":{"domain":[-1,-0.8,-0.6,-0.4,-0.2,0,0.2,0.4,0.6,0.8,1],"range":["#053061","#2166ac","#4393c3","#92c5de","#d1e5f0","#f7f7f7","#fddbc7","#f4a582","#d6604d","#b2182b","#67001f"]},"legend":{"title":null,"orient":"none","legendX":1029,"legendY":188,"gradientLength":359,"gradientThickness":31,"gradientStrokeColor":"black","gradientStrokeWidth":1,"values":[-1,1],"labelExpr":"''"}}}},
{"data":{"name":"thin"},"mark":{"type":"line","color":"black","strokeWidth":1.3},"encoding":{"x":{"field":"x","type":"quantitative","axis":null},"y":{"field":"y","type":"quantitative","axis":null},"detail":{"field":"s"},"order":{"field":"o"}}},
{"data":{"name":"thick"},"mark":{"type":"line","color":"black","strokeWidth":1.8},"encoding":{"x":{"field":"x","type":"quantitative","axis":null},"y":{"field":"y","type":"quantitative","axis":null},"detail":{"field":"s"},"order":{"field":"o"}}},
{"data":{"values":[{"x":-3.77,"x2":1.3,"y":-45.05,"y2":-45.05},{"x":-3.77,"x2":-3.77,"y":-45.05,"y2":-38}]},"mark":{"type":"rule","color":"black","strokeWidth":1.6},"encoding":{"x":{"field":"x","type":"quantitative","axis":null},"x2":{"field":"x2"},"y":{"field":"y","type":"quantitative","axis":null},"y2":{"field":"y2"}}},
{"data":{"values":[{"x":1.13,"y":-45.05}]},"mark":{"type":"point","filled":true,"opacity":1,"color":"black","shape":"M-1,-0.8L1,0L-1,0.8L-0.5,0Z","size":100},"encoding":{"x":{"field":"x","type":"quantitative","axis":null},"y":{"field":"y","type":"quantitative","axis":null}}},
{"data":{"values":[{"x":-3.77,"y":-38.5}]},"mark":{"type":"point","filled":true,"opacity":1,"color":"black","shape":"M-0.8,1L0,-1L0.8,1L0,0.5Z","size":100},"encoding":{"x":{"field":"x","type":"quantitative","axis":null},"y":{"field":"y","type":"quantitative","axis":null}}},
{"data":{"values":[{"x":3.01,"y":-45,"t":"ξ"},{"x":-3.77,"y":-36.15,"t":"η"},{"x":125.58,"y":53.7,"t":"Jξ / J₀"}]},"mark":{"type":"text","font":"Liberation Serif","fontStyle":"italic","fontSize":18,"color":"black"},"encoding":{"x":{"field":"x","type":"quantitative","axis":null},"y":{"field":"y","type":"quantitative","axis":null},"text":{"field":"t"}}}
]},
{"data":{"name":"ticks"},"mark":{"type":"rule","color":"black","strokeWidth":1},"encoding":{"x":{"field":"a","type":"quantitative","axis":null},"x2":{"field":"b"},"y":{"field":"t","type":"quantitative","scale":{"domain":[-1,1],"range":[547.3,188.3]},"axis":{"orient":"right","offset":-75,"values":[-1,-0.8,-0.6,-0.4,-0.2,0,0.2,0.4,0.6,0.8,1],"format":".1f","domain":false,"grid":false,"title":null,"tickSize":31,"tickColor":"black","tickWidth":1,"labelPadding":37,"labelAlign":"right","labelFont":"Liberation Serif","labelFontSize":16,"labelColor":"black","labelOverlap":false,"labelFlush":false,"zindex":1}}}}
]}
